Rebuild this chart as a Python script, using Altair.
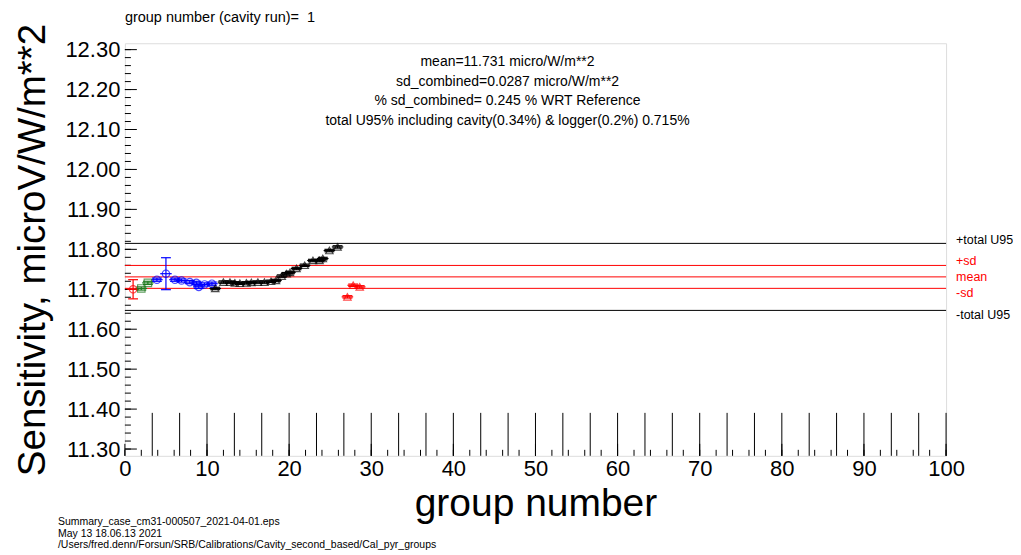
import altair as alt
import pandas as pd

# ---------------- data ----------------
red1_x = [1.0]
red1_y = [11.700]
red1_err = [0.024]

green_x = [2.0, 2.8]
green_y = [11.702, 11.716]
green_err = [0.004, 0.004]

blue_x = [3.9, 5.0, 6.1, 6.9, 7.9, 8.7, 9.0, 9.7, 10.6]
blue_y = [11.724, 11.739, 11.724, 11.722, 11.718, 11.716, 11.706, 11.712, 11.714]
blue_err = [0.004, 0.040, 0.004, 0.004, 0.004, 0.004, 0.004, 0.004, 0.004]

black_x = [11.0, 12.0, 12.8, 13.4, 14.0, 14.8, 15.4, 16.2, 17.0, 17.8, 18.4,
           19.1, 19.7, 20.1, 20.9, 21.9, 22.9, 23.7, 24.1, 24.9, 25.9]
black_y = [11.702, 11.718, 11.718, 11.716, 11.715, 11.716, 11.717, 11.718, 11.718,
           11.720, 11.722, 11.733, 11.739, 11.742, 11.752, 11.760, 11.772, 11.772,
           11.777, 11.797, 11.806]
black_err = [0.003] * len(black_x)

red2_x = [27.1, 27.8, 28.6]
red2_y = [11.681, 11.710, 11.706]
red2_err = [0.003, 0.003, 0.003]

XERR = 0.7

mean_val = 11.731
sd_val = 0.0287
u95_pct = 0.715

x_major = [0, 10, 20, 30, 40, 50, 60, 70, 80, 90, 100]
x_minor = [v * 2 for v in range(51)]
tall_marks = [k * 10 / 3 for k in range(1, 31)]
y_major = [round(11.3 + 0.1 * i, 2) for i in range(11)]
y_minor = [round(11.3 + 0.02 * i, 2) for i in range(51)]

stat_lines = [
    "mean=11.731 micro/W/m**2",
    "sd_combined=0.0287 micro/W/m**2",
    "% sd_combined= 0.245 % WRT Reference",
    "total U95% including cavity(0.34%) & logger(0.2%) 0.715%",
]
footer_lines = [
    "Summary_case_cm31-000507_2021-04-01.eps",
    "May 13 18.06.13 2021",
    "/Users/fred.denn/Forsun/SRB/Calibrations/Cavity_second_based/Cal_pyr_groups",
]
top_label = "group number (cavity run)=\u00a0\u00a01"

# ---------------- tables ----------------
rows = []
for g, xs_, ys_, es in [("r1", red1_x, red1_y, red1_err), ("g", green_x, green_y, green_err),
                        ("b", blue_x, blue_y, blue_err), ("k", black_x, black_y, black_err),
                        ("r2", red2_x, red2_y, red2_err)]:
    for x, y, e in zip(xs_, ys_, es):
        rows.append({"grp": g, "x": x, "y": y, "lo": y - e, "hi": y + e,
                     "xl": x - XERR, "xr": x + XERR, "cl": x - 0.6, "cr": x + 0.6})
pts = pd.DataFrame(rows)

grp_dom = ["r1", "g", "b", "k", "r2"]
grp_col = ["#ff0000", "#1f7a1f", "#0000ff", "#000000", "#ff0000"]
grp_shape = ["circle", "square", "circle", "triangle-up", "triangle-up"]

FONT = "Liberation Sans"
W, H = 822, 413
Y_LO, Y_HI = 11.283, 12.316
xs = alt.Scale(domain=[0, 100], nice=False, zero=False)
ys = alt.Scale(domain=[Y_LO, Y_HI], nice=False, zero=False)
PX_PER_UNIT = H / (Y_HI - Y_LO)

col = alt.Color("grp:N", scale=alt.Scale(domain=grp_dom, range=grp_col), legend=None)

X = alt.X("x:Q", scale=xs,
          axis=alt.Axis(values=x_major, format="d", labelFont=FONT, labelFontSize=22,
                        labelColor="black", ticks=False, domain=False, grid=False,
                        labelFlush=False, labelOverlap=False,
                        labelPadding=3, title="group number", titleFont=FONT,
                        titleFontSize=39, titleFontWeight="normal", titleColor="black",
                        titlePadding=5))
Y = alt.Y("y:Q", scale=ys,
          axis=alt.Axis(values=y_major, format=".2f", labelFont=FONT, labelFontSize=22,
                        labelColor="black", ticks=False, domain=False, grid=False,
                        labelFlush=False, labelOverlap=False,
                        labelPadding=5, title="Sensitivity, microV/W/m**2", titleFont=FONT,
                        titleFontSize=38.5, titleFontWeight="normal", titleColor="black",
                        titlePadding=12))

base = alt.Chart(pts)

hbar = base.mark_rule(strokeWidth=1.2).encode(x=alt.X("xl:Q", scale=xs), x2="xr:Q",
                                               y=alt.Y("y:Q", scale=ys), color=col)
vbar = base.mark_rule(strokeWidth=1.2).encode(x=alt.X("x:Q", scale=xs),
                                               y=alt.Y("lo:Q", scale=ys), y2="hi:Q", color=col)
cap_hi = base.mark_rule(strokeWidth=1.2).encode(x=alt.X("cl:Q", scale=xs), x2="cr:Q",
                                                 y=alt.Y("hi:Q", scale=ys), color=col)
cap_lo = base.mark_rule(strokeWidth=1.2).encode(x=alt.X("cl:Q", scale=xs), x2="cr:Q",
                                                 y=alt.Y("lo:Q", scale=ys), color=col)
marks = base.mark_point(filled=False, size=55, strokeWidth=1.2).encode(
    x=X, y=Y, color=col,
    shape=alt.Shape("grp:N", scale=alt.Scale(domain=grp_dom, range=grp_shape), legend=None))

# reference lines
u_hi = mean_val * (1 + u95_pct / 100)
u_lo = mean_val * (1 - u95_pct / 100)
ref = pd.DataFrame({
    "v": [u_hi, mean_val + sd_val, mean_val, mean_val - sd_val, u_lo],
    "lab": ["+total U95", "+sd", "mean", "-sd", "-total U95"],
    "c": ["#000000", "#ff0000", "#ff0000", "#ff0000", "#000000"],
    "dy": [-3, -4, 0, 5, 5],
})
ref_rules = alt.Chart(ref).mark_rule(strokeWidth=1).encode(
    y=alt.Y("v:Q", scale=ys), color=alt.Color("c:N", scale=None))
ref_text = alt.Chart(ref).transform_calculate(
    lv=f"datum.v - datum.dy / {PX_PER_UNIT}"
).mark_text(
    align="left", baseline="middle", font=FONT, fontSize=12.5).encode(
    text="lab:N", x=alt.value(W + 10), y=alt.Y("lv:Q", scale=ys),
    color=alt.Color("c:N", scale=None))

# ticks (inward)
tk_xmaj = alt.Chart(pd.DataFrame({"t": x_major})).mark_rule(color="black").encode(
    x=alt.X("t:Q", scale=xs), y=alt.value(H), y2=alt.value(H - 12))
tk_xmin = alt.Chart(pd.DataFrame({"t": x_minor})).mark_rule(color="black").encode(
    x=alt.X("t:Q", scale=xs), y=alt.value(H), y2=alt.value(H - 6))
tk_tall = alt.Chart(pd.DataFrame({"t": tall_marks})).mark_rule(color="black").encode(
    x=alt.X("t:Q", scale=xs), y=alt.value(H), y2=alt.value(H - 43))
tk_ymaj = alt.Chart(pd.DataFrame({"t": y_major})).mark_rule(color="black").encode(
    y=alt.Y("t:Q", scale=ys), x=alt.value(0), x2=alt.value(12))
tk_ymin = alt.Chart(pd.DataFrame({"t": y_minor})).mark_rule(color="black").encode(
    y=alt.Y("t:Q", scale=ys), x=alt.value(0), x2=alt.value(6))

# texts
stat_text = alt.Chart(pd.DataFrame({"t": ["\n".join(stat_lines)]})).mark_text(
    font=FONT, fontSize=14, align="center", baseline="middle",
    lineBreak="\n", lineHeight=19.6).encode(
    text="t:N", x=alt.value(383), y=alt.value(19))
foot_text = alt.Chart(pd.DataFrame({"t": ["\n".join(footer_lines)]})).mark_text(
    font=FONT, fontSize=10.5, align="left", baseline="middle",
    lineBreak="\n", lineHeight=11.8).encode(
    text="t:N", x=alt.value(-67), y=alt.value(479))
top_text = alt.Chart(pd.DataFrame({"t": [top_label]})).mark_text(
    font=FONT, fontSize=14.5, align="left", baseline="middle").encode(
    text="t:N", x=alt.value(0), y=alt.value(-25))

chart = alt.layer(
    tk_tall, tk_xmaj, tk_xmin, tk_ymaj, tk_ymin,
    ref_rules, hbar, vbar, cap_hi, cap_lo, marks, ref_text,
    stat_text, foot_text, top_text,
).properties(
    width=W, height=H,
    autosize=alt.AutoSizeParams(type="none"),
    padding={"left": 117, "top": 35, "right": 67, "bottom": 96},
).configure_view(stroke="black", strokeWidth=1).configure(background="white")

chart.save("out.html", embed_options={"renderer": "svg", "actions": False})
